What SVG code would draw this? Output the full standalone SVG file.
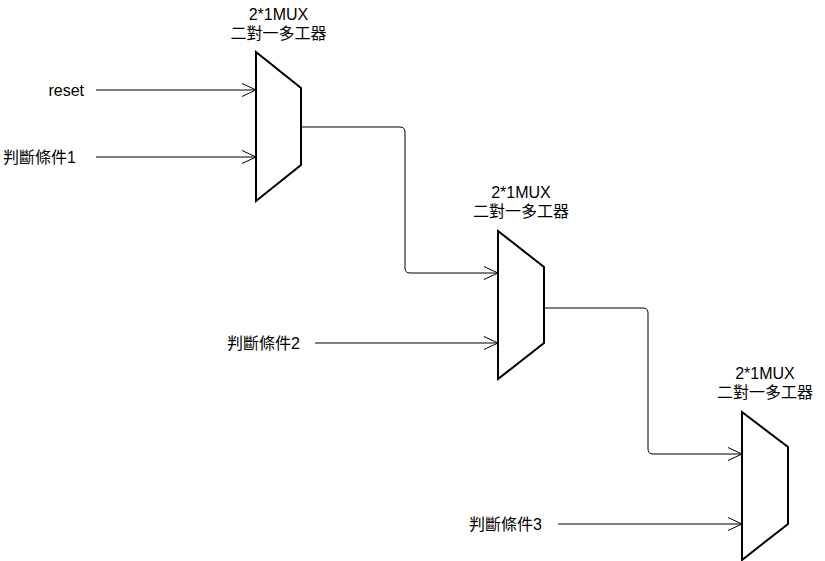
<svg xmlns="http://www.w3.org/2000/svg" width="825" height="561" viewBox="0 0 825 561">
<style>
  .mux { fill: #ffffff; stroke: #000000; stroke-width: 2; stroke-linejoin: miter; }
  .wire { fill: none; stroke: #000000; stroke-width: 1; }
  .lbl { font-family: "Liberation Sans", "Noto Sans CJK TC", sans-serif; font-size: 16px; fill: #000000; }
  .mid { text-anchor: middle; }
</style>
<defs>
  <marker id="open" markerWidth="16" markerHeight="16" refX="14" refY="8" orient="auto" markerUnits="userSpaceOnUse">
    <path d="M0,1.5 L14,8 L0,14.5" fill="none" stroke="#000000" stroke-width="1"/>
  </marker>
</defs>
<rect width="825" height="561" fill="#ffffff"/>
<g id="connectors">
  <path class="wire" d="M96,90 H256" marker-end="url(#open)"/>
  <path class="wire" d="M96,157 H256" marker-end="url(#open)"/>
  <path class="wire" d="M301,127 H400 Q405,127 405,132 V268 Q405,273 410,273 H498" marker-end="url(#open)"/>
  <path class="wire" d="M315,343 H498" marker-end="url(#open)"/>
  <path class="wire" d="M544,308 H643 Q648,308 648,313 V449 Q648,454 653,454 H742" marker-end="url(#open)"/>
  <path class="wire" d="M558,524 H742" marker-end="url(#open)"/>
</g>
<g id="mux1">
  <polygon class="mux" points="256,52 301,88 301,165 256,201"/>
  <text class="lbl mid" x="278.5" y="20">2*1MUX</text>
  <text class="lbl mid" x="278.5" y="39">二對一多工器</text>
</g>
<g id="mux2">
  <polygon class="mux" points="498,231 544,267 544,343 498,379"/>
  <text class="lbl mid" x="521" y="198">2*1MUX</text>
  <text class="lbl mid" x="521" y="217">二對一多工器</text>
</g>
<g id="mux3">
  <polygon class="mux" points="742,412 788,447 788,524 742,560"/>
  <text class="lbl mid" x="765" y="379">2*1MUX</text>
  <text class="lbl mid" x="765" y="398">二對一多工器</text>
</g>
<g id="label-reset">
  <text class="lbl" x="84" y="96" text-anchor="end">reset</text>
</g>
<g id="label-cond1">
  <text class="lbl" x="3" y="163">判斷條件1</text>
</g>
<g id="label-cond2">
  <text class="lbl" x="227" y="349">判斷條件2</text>
</g>
<g id="label-cond3">
  <text class="lbl" x="469" y="530">判斷條件3</text>
</g>
</svg>
